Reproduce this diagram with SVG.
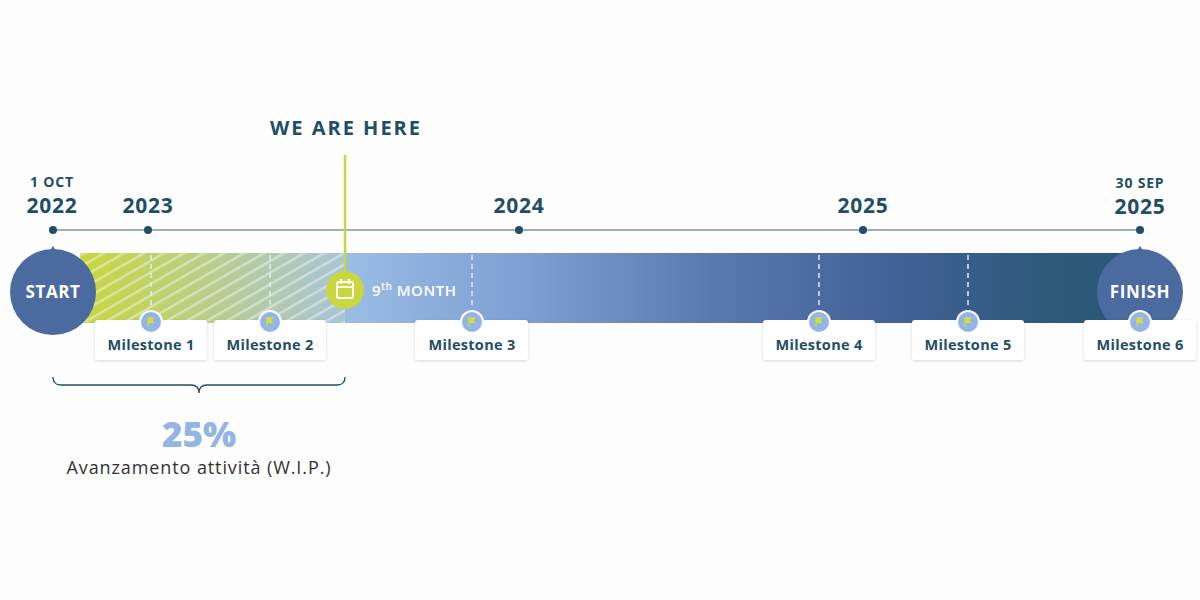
<svg xmlns="http://www.w3.org/2000/svg" width="1200" height="600" viewBox="0 0 1200 600">
<defs>
<style>
.t{font-family:"Open Sans",Lato,sans-serif;font-weight:700;fill:#1f4e66;text-anchor:middle;letter-spacing:0.8px}
.mb{fill:#fff;filter:url(#sh)}
.ml{font-family:"Open Sans",Lato,sans-serif;font-weight:700;font-size:14.5px;fill:#1f4e66;text-anchor:middle;letter-spacing:0.3px}
.dash{stroke:#e4eef8;stroke-width:1.5;stroke-dasharray:5 4}
.fc{fill:#93b5e6;stroke:#fff;stroke-width:2}
.fl{fill:#d4dc3c}
</style>
<linearGradient id="bar" x1="80" x2="1140" gradientUnits="userSpaceOnUse">
<stop offset="0" stop-color="#c8d640"/>
<stop offset="0.25" stop-color="#9bbce4"/>
<stop offset="0.42" stop-color="#7d9fd3"/>
<stop offset="0.6" stop-color="#5a78b0"/>
<stop offset="0.76" stop-color="#44629a"/>
<stop offset="0.9" stop-color="#2e5a7c"/>
<stop offset="1" stop-color="#2a5877"/>
</linearGradient>
<linearGradient id="hatchfade" x1="80" x2="345" gradientUnits="userSpaceOnUse">
<stop offset="0" stop-color="#c8d640"/>
<stop offset="1" stop-color="#a8c4d8"/>
</linearGradient>
<pattern id="hatch" width="10" height="10" patternUnits="userSpaceOnUse" patternTransform="rotate(-30)">
<rect width="10" height="2.5" fill="#ffffff" fill-opacity="0.4"/>
</pattern>
<filter id="sh" x="-10%" y="-20%" width="120%" height="150%">
<feDropShadow dx="0" dy="1" stdDeviation="1.5" flood-color="#000" flood-opacity="0.15"/>
</filter>
<symbol id="flag" viewBox="0 0 10 10"><path class="fl" d="M2 1h6l-1.5 2.5L8 6H3v3H2z"/></symbol>
</defs>
<rect width="1200" height="600" fill="#fdfdfd"/>

<g id="timeline">
<line x1="53" y1="230" x2="1140" y2="230" stroke="#7a95a8" stroke-width="1.5"/>
<circle cx="53" cy="230" r="4" fill="#1f4e66"/>
<circle cx="148" cy="230" r="4" fill="#1f4e66"/>
<circle cx="519" cy="230" r="4" fill="#1f4e66"/>
<circle cx="863" cy="230" r="4" fill="#1f4e66"/>
<circle cx="1140" cy="230" r="4" fill="#1f4e66"/>
<text class="t" x="52" y="187" font-size="14">1 OCT</text>
<text class="t" x="52" y="213" font-size="21">2022</text>
<text class="t" x="148" y="213" font-size="21">2023</text>
<text class="t" x="519" y="213" font-size="21">2024</text>
<text class="t" x="863" y="213" font-size="21">2025</text>
<text class="t" x="1140" y="188" font-size="14">30 SEP</text>
<text class="t" x="1140" y="214" font-size="21">2025</text>
</g>

<g id="bar">
<rect x="80" y="253" width="1060" height="70" fill="url(#bar)"/>
<rect x="80" y="253" width="265" height="70" fill="url(#hatchfade)"/>
<rect x="80" y="253" width="265" height="70" fill="url(#hatch)"/>
</g>

<g id="connectors">
<line class="dash" x1="151" y1="255" x2="151" y2="308"/>
<line class="dash" x1="270" y1="255" x2="270" y2="308"/>
<line class="dash" x1="472" y1="255" x2="472" y2="308"/>
<line class="dash" x1="819" y1="255" x2="819" y2="308"/>
<line class="dash" x1="968" y1="255" x2="968" y2="308"/>
<line x1="345" y1="155" x2="345" y2="280" stroke="#c8d640" stroke-width="2.5"/>
<path d="M53 377 q0 8 8 8 h130 q8 0 8 8 q0-8 8-8 h130 q8 0 8-8" fill="none" stroke="#1f4e66" stroke-width="1.3"/>
</g>

<g id="start">
<path d="M53 246 l4 6 h-8z" fill="#4a6aa0"/>
<circle cx="53" cy="292" r="43" fill="#4a6aa0"/>
<text x="53" y="298" font-family="'Open Sans',Lato,sans-serif" font-weight="700" font-size="17" letter-spacing="0.6" fill="#fff" text-anchor="middle">START</text>
</g>
<g id="finish">
<path d="M1140 246 l4 6 h-8z" fill="#4a6aa0"/>
<circle cx="1140" cy="292" r="43" fill="#4a6aa0"/>
<text x="1140" y="298" font-family="'Open Sans',Lato,sans-serif" font-weight="700" font-size="17" letter-spacing="0.6" fill="#fff" text-anchor="middle">FINISH</text>
</g>

<g id="we-are-here">
<text class="t" x="346" y="135" font-size="20" style="letter-spacing:2px">WE ARE HERE</text>
<circle cx="345" cy="290" r="19" fill="#c8d640"/>
<rect x="337" y="282" width="16" height="16" rx="2" fill="none" stroke="#fff" stroke-width="1.8"/>
<line x1="337" y1="287" x2="353" y2="287" stroke="#fff" stroke-width="1.8"/>
<line x1="341" y1="279" x2="341" y2="284" stroke="#fff" stroke-width="1.8"/>
<line x1="349" y1="279" x2="349" y2="284" stroke="#fff" stroke-width="1.8"/>
<text x="372" y="296" font-family="'Open Sans',Lato,sans-serif" font-weight="600" font-size="15" letter-spacing="0.5" fill="#fff">9<tspan font-size="10" dy="-6">th</tspan><tspan dy="6"> MONTH</tspan></text>
</g>

<g id="m1"><rect class="mb" x="95" y="320" width="112" height="40" rx="3"/><circle class="fc" cx="151" cy="322" r="11"/><use href="#flag" x="145" y="316" width="12" height="12"/><text class="ml" x="151" y="350">Milestone 1</text></g>
<g id="m2"><rect class="mb" x="214" y="320" width="112" height="40" rx="3"/><circle class="fc" cx="270" cy="322" r="11"/><use href="#flag" x="264" y="316" width="12" height="12"/><text class="ml" x="270" y="350">Milestone 2</text></g>
<g id="m3"><rect class="mb" x="415" y="320" width="113" height="40" rx="3"/><circle class="fc" cx="472" cy="322" r="11"/><use href="#flag" x="466" y="316" width="12" height="12"/><text class="ml" x="472" y="350">Milestone 3</text></g>
<g id="m4"><rect class="mb" x="763" y="320" width="112" height="40" rx="3"/><circle class="fc" cx="819" cy="322" r="11"/><use href="#flag" x="813" y="316" width="12" height="12"/><text class="ml" x="819" y="350">Milestone 4</text></g>
<g id="m5"><rect class="mb" x="912" y="320" width="112" height="40" rx="3"/><circle class="fc" cx="968" cy="322" r="11"/><use href="#flag" x="962" y="316" width="12" height="12"/><text class="ml" x="968" y="350">Milestone 5</text></g>
<g id="m6"><rect class="mb" x="1084" y="320" width="112" height="40" rx="3"/><circle class="fc" cx="1140" cy="322" r="11"/><use href="#flag" x="1134" y="316" width="12" height="12"/><text class="ml" x="1140" y="350">Milestone 6</text></g>

<g id="progress">
<text x="199" y="447" font-family="'Open Sans',Lato,sans-serif" font-weight="800" font-size="35" fill="#93b5e6" text-anchor="middle">25%</text>
<text x="199" y="474" font-family="'Open Sans',Lato,sans-serif" font-size="18" letter-spacing="0.9" fill="#333" text-anchor="middle">Avanzamento attività (W.I.P.)</text>
</g>
</svg>
